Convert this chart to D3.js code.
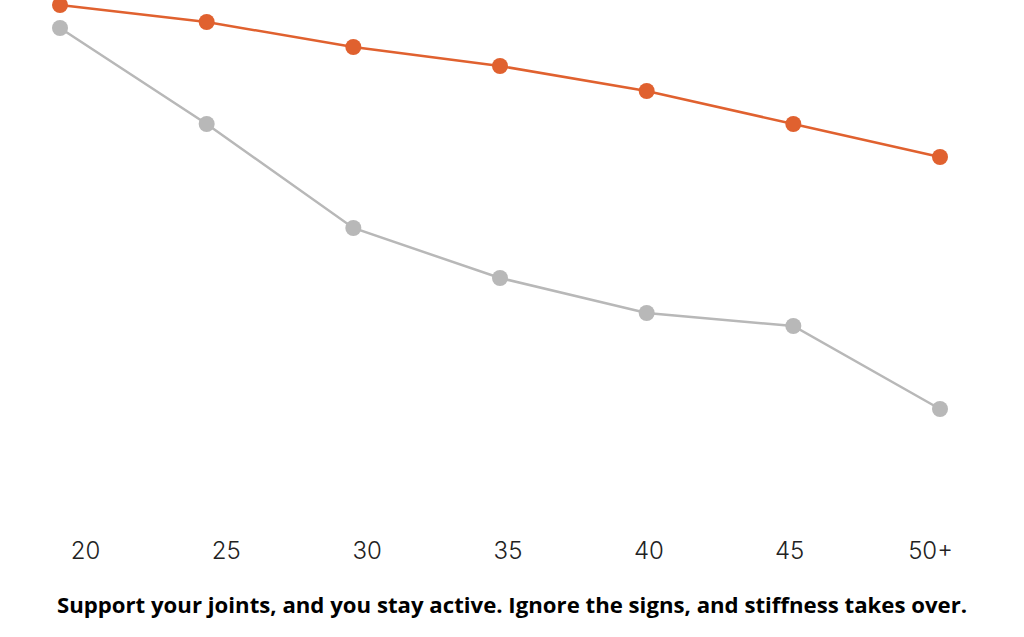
<!DOCTYPE html>
<html>
<head>
<meta charset="utf-8">
<script src="https://cdn.jsdelivr.net/npm/d3@7"></script>
<style>
  html, body { margin: 0; padding: 0; background: #fff; }
  svg { display: block; }
</style>
</head>
<body>
<svg id="chart" width="1024" height="637"></svg>
<script>
const categories = ["20", "25", "30", "35", "40", "45", "50+"];
const activeValues = [100, 96.6, 91.6, 87.8, 82.8, 76.2, 69.6];
const stiffValues = [95.4, 76.2, 55.4, 45.4, 38.4, 35.8, 19.2];
const caption = "Support your joints, and you stay active. Ignore the signs, and stiffness takes over.";

const svg = d3.select("#chart");

const x = d3.scalePoint().domain(categories).range([60, 940]);
const xLabels = d3.scalePoint().domain(categories).range([85, 930]);
const y = d3.scaleLinear().domain([0, 100]).range([505, 5]);

const series = [
  { values: stiffValues, color: "#b8b8b8" },
  { values: activeValues, color: "#e0612f" }
];

const line = d3.line()
  .x((d, i) => x(categories[i]))
  .y(d => y(d));

series.forEach(s => {
  svg.append("path")
    .datum(s.values)
    .attr("fill", "none")
    .attr("stroke", s.color)
    .attr("stroke-width", 2.5)
    .attr("d", line);
  svg.selectAll(null)
    .data(s.values)
    .enter().append("circle")
    .attr("cx", (d, i) => x(categories[i]))
    .attr("cy", d => y(d))
    .attr("r", 8)
    .attr("fill", s.color);
});

const axis = d3.axisBottom(xLabels).tickSize(0).tickPadding(0);
const ax = svg.append("g").attr("transform", "translate(0,542)").call(axis);
ax.select(".domain").remove();
ax.selectAll("text")
  .attr("fill", "#222")
  .attr("font-family", "Inter, 'Open Sans', sans-serif")
  .attr("font-weight", 300)
  .attr("font-size", 24);

const cap = svg.append("text")
  .attr("x", 512)
  .attr("y", 613)
  .attr("text-anchor", "middle")
  .attr("font-family", "'Open Sans', sans-serif")
  .attr("font-weight", 700)
  .attr("font-size", 20)
  .attr("fill", "#000")
  .text(caption);
const w = cap.node().getComputedTextLength();
cap.attr("font-size", 20 * 911 / w);
</script>
</body>
</html>
